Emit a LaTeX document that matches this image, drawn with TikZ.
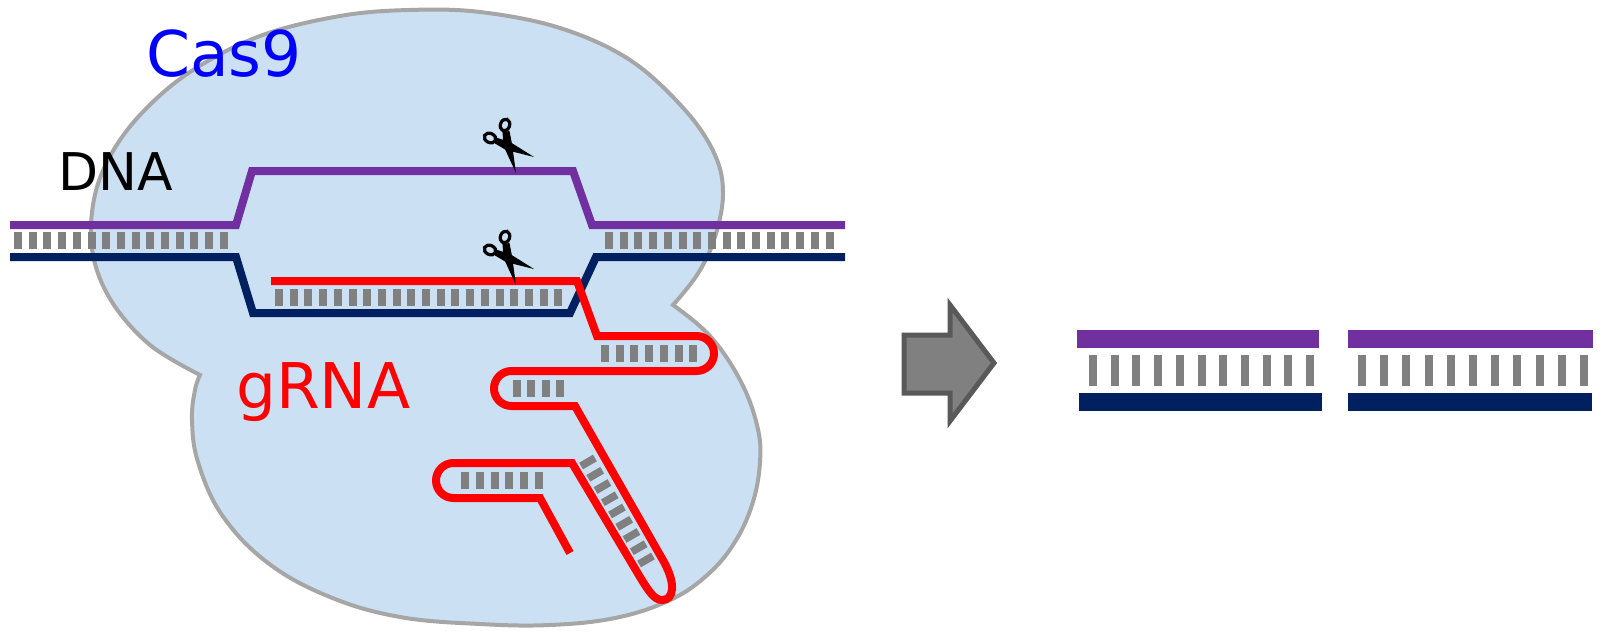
\documentclass[tikz,border=0pt]{standalone}
\usepackage{fontspec}
\setmainfont{DejaVu Sans}
\definecolor{dnapurple}{HTML}{7030A0}
\definecolor{dnanavy}{HTML}{002060}
\definecolor{rnared}{HTML}{FF0000}
\definecolor{rungc}{HTML}{808080}
\definecolor{casfill}{RGB}{204,224,244}
\definecolor{casline}{HTML}{A6A6A6}
\definecolor{arrowline}{HTML}{595959}
\begin{document}
\begin{tikzpicture}[x=1pt,y=-1pt,
  purplestrand/.style={draw=dnapurple, line width=8pt},
  navystrand/.style={draw=dnanavy, line width=8pt},
  rnastrand/.style={draw=rnared, line width=8pt},
  rung/.style={fill=rungc},
  label/.style={anchor=base west, inner sep=0pt},
  scissors/.pic={
    \draw[black, line width=3.2pt, rotate around={-25:(-17,-9)}] (-17,-9) ellipse[x radius=6, y radius=4.6];
    \draw[black, line width=3.2pt, rotate around={-20:(-2,-22)}] (-2,-22) ellipse[x radius=4.6, y radius=6];
    \fill[black] (-11,-9.5) -- (3,-5) -- (27,10) -- (-1,3) -- (-12,-3.5) -- cycle;
    \fill[black] (2.5,-16) -- (5,-3) -- (9,26) -- (-3.5,-1) -- (-4.5,-15) -- cycle;
  }]
\useasboundingbox (0,0) rectangle (1605,634);

% Cas9 protein body
\filldraw[fill=casfill, draw=casline, line width=4pt]
  plot[smooth, tension=0.6] coordinates {
    (200,375) (150,345) (112,302) (93,255) (93,205) (108,160) (140,115)
    (190,72) (260,36) (340,16) (409,10) (480,12) (560,28) (630,60)
    (685,110) (715,155) (723,195) (714,240) (697,275) (673,305)}
  -- plot[smooth, tension=0.65] coordinates {
    (673,305) (710,336) (740,380) (757,425) (760,462) (752,505) (733,545)
    (705,577) (668,601) (615,618) (550,625) (480,624) (400,617) (330,597)
    (268,563) (222,515) (198,462) (192,420) (195,390) (200,375)}
  -- cycle;

% DNA double strand
\draw[purplestrand] (10,225) -- (236,225) -- (252,171) -- (573,171) -- (592,225) -- (845,225);
\draw[navystrand] (10,257) -- (236,257) -- (253,313) -- (570,313) -- (596,257) -- (845,257);
\foreach \i in {0,...,14} \fill[rung] ({14+14.7*\i},232) rectangle +(8,17);
\foreach \i in {0,...,15} \fill[rung] ({605+14.7*\i},232) rectangle +(8,17);
\foreach \i in {0,...,19} \fill[rung] ({275+14.7*\i},289) rectangle +(8,17);

% guide RNA
\draw[rnastrand] (271,281) -- (577,281) -- (597,336) -- (696.5,336)
  arc[start angle=-90, end angle=90, radius=17.5] -- (511.5,371)
  arc[start angle=-90, end angle=-270, radius=17.5] -- (575,406)
  -- (664,562) .. controls (676,584) and (674,600) .. (662,600)
  .. controls (654,600) and (648,590) .. (640,577) -- (572,463)
  -- (453.5,463) arc[start angle=-90, end angle=-270, radius=17.5]
  -- (540,498) -- (570,553);
\foreach \i in {0,...,6} \fill[rung] ({601+14.7*\i},345) rectangle +(8,17);
\foreach \i in {0,...,3} \fill[rung] ({513+14.3*\i},380) rectangle +(8,17);
\foreach \i in {0,...,5} \fill[rung] ({461+14.8*\i},472) rectangle +(8,17);
\foreach \i in {0,...,8}
  \fill[rung, shift={({588+7.25*\i},{462+12.25*\i})}, rotate=30] (-8,-3.8) rectangle (8,3.8);

% cutting sites
\pic at (507,147) {scissors};
\pic at (507,259) {scissors};

% labels
\node[label, text=blue, font=\fontsize{63}{63}\selectfont] (cas) at (146,76) {Cas9};
\node[label, text=black, font=\fontsize{52}{52}\selectfont] (dna) at (58,190) {DNA};
\node[label, text=rnared, font=\fontsize{63}{63}\selectfont] (grna) at (236,408) {gRNA};

% process arrow
\draw[fill=rungc, draw=arrowline, line width=5pt, line join=miter]
  (904,335) -- (950,335) -- (950,305) -- (994,363) -- (950,421) -- (950,393) -- (904,393) -- cycle;

% cleaved DNA fragments
\fill[dnapurple] (1077,330) rectangle (1319,348);
\fill[dnanavy] (1079,393) rectangle (1322,411);
\foreach \i in {0,...,10} \fill[rung] ({1089+21.7*\i},355) rectangle +(8,31);
\fill[dnapurple] (1348,330) rectangle (1593,348);
\fill[dnanavy] (1348,393) rectangle (1592,411);
\foreach \i in {0,...,10} \fill[rung] ({1358+22.2*\i},355) rectangle +(8,31);
\end{tikzpicture}
\end{document}
